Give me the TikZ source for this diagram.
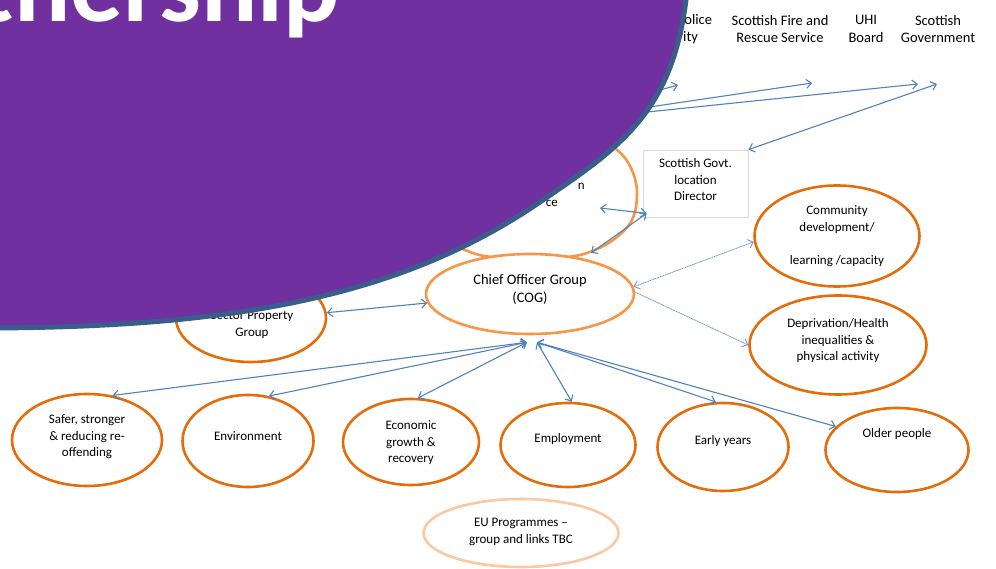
\documentclass[tikz,border=0pt]{standalone}
\usepackage{fontspec}
\setmainfont{Carlito}
\usetikzlibrary{arrows.meta,shapes.geometric}
\definecolor{purp}{HTML}{7030A0}
\definecolor{purpedge}{HTML}{3A5E8C}
\definecolor{lnk}{HTML}{4F81BD}
\definecolor{dkor}{HTML}{E46C0A}
\definecolor{ltor}{HTML}{F79646}
\definecolor{paleor}{HTML}{FAC9A3}
\definecolor{boxgray}{HTML}{D9D9D9}
\begin{document}
\begin{tikzpicture}[x=1pt,y=-1pt,
  >={Straight Barb[length=5pt,width=9pt]},
  oval/.style={ellipse, draw=dkor, line width=2.6pt, fill=white, inner sep=0},
  lbl/.style={align=center, inner sep=0, text=black, font=\fontsize{13}{16.5}\selectfont},
  biglbl/.style={align=center, inner sep=0, text=black, font=\fontsize{14.5}{17.5}\selectfont},
  link/.style={draw=lnk, line width=1.1pt},
  faint/.style={draw=lnk!85, line width=0.8pt, dash pattern=on 1.2pt off 0.6pt},
]
\useasboundingbox (0,0) rectangle (996,569);
\clip (0,0) rectangle (996,569);

% ---- top labels
\node[biglbl] (spa)  at (670,29) {Scottish Police\\Authority};
\node[biglbl] (sfrs) at (780,29) {Scottish Fire and\\Rescue Service};
\node[biglbl] (uhi)  at (866,29) {UHI\\Board};
\node[biglbl] (sgov) at (938,29) {Scottish\\Government};

% ---- free ends of connectors
\coordinate (hub) at (541,123);
\coordinate (spapt) at (678,85);
\coordinate (sfrspt) at (812,83);
\coordinate (sgovpta) at (918,84);
\coordinate (sgovptb) at (937,84);
\coordinate (execpt) at (600,208);
\coordinate (orgbot) at (591,253);

% ---- partly hidden ellipse above COG
\draw[ltor, line width=2.6pt, fill=white] plot[smooth cycle, tension=0.6] coordinates {
  (617,150) (631,168) (637,192) (632,220) (613,240) (587,253) (560,258) (530,260)
  (500,258) (470,252) (430,230) (420,190) (450,150) (520,130) (590,136)};
\node[lbl, anchor=base east] (execn) at (585,190) {n};
\node[lbl, anchor=base east] (execce) at (558,207) {ce};

% ---- main nodes
\node[oval, draw=ltor, minimum width=208pt, minimum height=80pt] (cog) at (530,294) {};
\node[biglbl] (cogt) at (530,289.5) {Chief Officer Group\\(COG)};

\node[oval, minimum width=150pt, minimum height=88pt] (spg) at (251,318) {};
\node[lbl] (spgt) at (252,325) {Sector Property\\Group};

\node[draw=boxgray, line width=0.8pt, fill=white, minimum width=105pt, minimum height=67pt, inner sep=0] (sgld) at (695.5,183.5) {};
\node[lbl] (sgldt) at (695.5,180) {Scottish Govt.\\location\\Director};

\node[oval, minimum width=165pt, minimum height=101pt] (comm) at (837,236) {};
\node[lbl] (commt) at (837,236) {Community\\development/\\\mbox{}\\learning /capacity};

\node[oval, minimum width=177pt, minimum height=99pt] (dep) at (838,345) {};
\node[lbl] (dept) at (838,341) {Deprivation/Health\\inequalities \&\\physical activity};

\node[oval, minimum width=150pt, minimum height=92pt] (safer) at (87,440) {};
\node[lbl] (safert) at (87,437) {Safer, stronger\\\& reducing re-\\offending};

\node[oval, minimum width=131pt, minimum height=92pt] (env) at (248,441) {};
\node[lbl] (envt) at (248,436) {Environment};

\node[oval, minimum width=136pt, minimum height=86pt] (econ) at (411,442) {};
\node[lbl] (econt) at (411,443) {Economic\\growth \&\\recovery};

\node[oval, minimum width=135pt, minimum height=84pt] (empl) at (568,445) {};
\node[lbl] (emplt) at (568,439) {Employment};

\node[oval, minimum width=131pt, minimum height=88pt] (early) at (723,447) {};
\node[lbl] (earlyt) at (723,441) {Early years};

\node[oval, minimum width=143pt, minimum height=84pt] (older) at (897,450) {};
\node[lbl] (oldert) at (897,434) {Older people};

\node[oval, draw=paleor, minimum width=195pt, minimum height=68pt] (eu) at (521,533) {};
\node[lbl] (eut) at (521,532) {EU Programmes --\\group and links TBC};

% ---- connectors
\draw[link,<->] ([shift={(-3,7)}]cog.south) -- (safer.60);
\draw[link,<->] ([shift={(-3,7)}]cog.south) -- (env.65);
\draw[link,<->] ([shift={(-3,7)}]cog.south) -- (econ.81);
\draw[link,<->] ([shift={(7,7)}]cog.south) -- (empl.85);
\draw[link,<->] ([shift={(7,7)}]cog.south) -- (early.99);
\draw[link,<->] ([shift={(7,7)}]cog.south) -- (older.159);
\draw[link,<->] (spg.4) -- (cog.185);
\draw[faint,<->] (cog.4) -- (comm.184);
\draw[faint,->] (cog.1) -- (dep.180);
\draw[link,<->] ([shift={(4,-4)}]sgld.south west) -- (execpt);
\draw[link,<->] ([shift={(4,-4)}]sgld.south west) -- (orgbot);
\draw[link,<->] (sgld.north east) -- (sgovptb);
\draw[link,->] (hub) -- (spapt);
\draw[link,->] (hub) -- (sfrspt);
\draw[link,->] (hub) -- (sgovpta);

% ---- purple title shape
\fill[purp] (700,-30) -- (688,-20)
  .. controls (677.6,110) and (622.6,145.7) .. (540,202)
  .. controls (403.7,294.9) and (240,328) .. (-20,328)
  -- (-30,-30) -- cycle;
\draw[purpedge, line width=5pt] (688,-20)
  .. controls (677.6,110) and (622.6,145.7) .. (540,202)
  .. controls (403.7,294.9) and (240,328) .. (-20,328);
\node[anchor=base east, inner sep=0, text=white, font=\fontsize{105}{105}\selectfont\bfseries] (title) at (340,22) {Partnership};
\end{tikzpicture}
\end{document}
